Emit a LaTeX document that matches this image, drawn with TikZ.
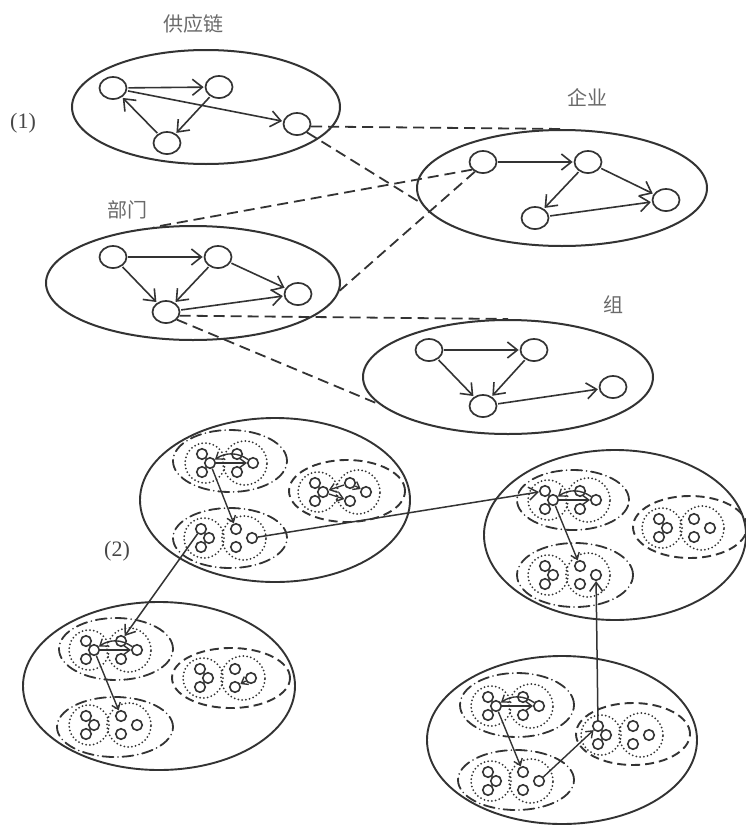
\documentclass[tikz,border=0pt]{standalone}
\usepackage{fontspec}
\setmainfont{Liberation Serif}
\newfontfamily\cjk{Noto Sans CJK SC}
\usetikzlibrary{arrows.meta,shapes.geometric}

\definecolor{ink}{HTML}{333333}
\definecolor{labelgray}{HTML}{6A6A6A}

\tikzset{
  % level (1): containers, members and links
  outer/.style={ellipse, draw=ink, line width=2pt, inner sep=0pt},
  unit/.style={ellipse, draw=ink, line width=1.7pt, minimum width=27pt, minimum height=22pt, inner sep=0pt},
  link/.style={draw=ink, line width=1.6pt, shorten >=1pt, shorten <=1pt,
    -{Straight Barb[length=10pt,width=16pt]}},
  cone/.style={draw=ink, line width=1.8pt, dash pattern=on 11pt off 6pt},
  % level (2): nested groups
  big/.style={draw=ink, line width=1.9pt},
  dot/.style={circle, draw=ink, line width=1.6pt, minimum size=10.5pt, inner sep=0pt},
  link2/.style={draw=ink, line width=1.4pt, -{Straight Barb[length=6pt,width=9pt]}},
  jump/.style={draw=ink, line width=1.5pt, -{Straight Barb[length=9pt,width=13pt]}},
  dotring/.style={draw=ink, line width=2pt, line cap=round, dash pattern=on 0pt off 3.8pt},
  dashdotring/.style={draw=ink, line width=1.8pt, line cap=round, dash pattern=on 11pt off 4.5pt on 0pt off 4.5pt},
  dashring/.style={draw=ink, line width=1.9pt, dash pattern=on 9pt off 5pt},
  lbl/.style={text=labelgray, font=\cjk\fontsize{20}{20}\selectfont, inner sep=0pt},
  num/.style={text=ink!90, font=\fontsize{22}{22}\selectfont, inner sep=0pt},
  % two dotted rings, each holding three members
  twinring/.pic={
    \draw[dotring] (-20,0) circle[radius=20pt];
    \draw[dotring] (20,0) circle[radius=22pt];
    \node[dot] (-l1) at (-23,-9) {};
    \node[dot] (-l2) at (-15,0) {};
    \node[dot] (-l3) at (-23,9) {};
    \node[dot] (-r1) at (12,-9) {};
    \node[dot] (-r2) at (28,0) {};
    \node[dot] (-r3) at (12,9) {};
  }
}

\begin{document}
\begin{tikzpicture}[x=1pt,y=-1pt]
\useasboundingbox[fill=white] (0,0) rectangle (746,827);

% ---------- (1) supply chain, enterprise, department, group ----------
\node[outer, minimum width=268pt, minimum height=114pt] (chain) at (206,107) {};
\node[outer, minimum width=290pt, minimum height=116pt] (ent) at (562,188) {};
\node[outer, minimum width=294pt, minimum height=114pt] (dep) at (193,283) {};
\node[outer, minimum width=290pt, minimum height=114pt] (grp) at (508,377) {};

\node[lbl] (tChain) at (193,24) {供应链};
\node[lbl] (tEnt) at (587,98) {企业};
\node[lbl] (tDep) at (127,210) {部门};
\node[lbl] (tGrp) at (613,305) {组};
\node[num] (n1) at (23,123) {(1)};

\node[unit] (A) at (113,88) {};
\node[unit] (B) at (219,87) {};
\node[unit] (C) at (167,143) {};
\node[unit] (D) at (297,124) {};
\draw[link] (A) -- (B);
\draw[link] (B) -- (C);
\draw[link] (C) -- (A);
\draw[link] (A) -- (D);

\node[unit] (E1) at (483,162) {};
\node[unit] (E2) at (588,162) {};
\node[unit] (E3) at (666,200) {};
\node[unit] (E4) at (535,218) {};
\draw[link] (E1) -- (E2);
\draw[link] (E2) -- (E4);
\draw[link] (E2) -- (E3);
\draw[link] (E4) -- (E3);

\node[unit] (P1) at (113,257) {};
\node[unit] (P2) at (218,257) {};
\node[unit] (P3) at (298,294) {};
\node[unit] (P4) at (166,312) {};
\draw[link] (P1) -- (P2);
\draw[link] (P1) -- (P4);
\draw[link] (P2) -- (P4);
\draw[link] (P2) -- (P3);
\draw[link] (P4) -- (P3);

\node[unit] (G1) at (429,350) {};
\node[unit] (G2) at (534,350) {};
\node[unit] (G3) at (483,406) {};
\node[unit] (G4) at (613,387) {};
\draw[link] (G1) -- (G2);
\draw[link] (G1) -- (G3);
\draw[link] (G2) -- (G3);
\draw[link] (G3) -- (G4);

% expansion cones between levels
\draw[cone] (D.-10) -- (ent.north);
\draw[cone] (D.-40) -- (ent.186);
\draw[cone] (E1.215) -- (dep.125);
\draw[cone] (E1.230) -- (dep.-3);
\draw[cone] (P4.-15) -- (grp.north);
\draw[cone] (P4.-35) -- (grp.192);

% ---------- (2) nested groups ----------
\node[num] (n2) at (117,551) {(2)};

% upper middle cluster
\draw[big] (275,500) ellipse[x radius=135pt, y radius=82pt];
\draw[dashdotring] (230,461) ellipse[x radius=57pt, y radius=31pt];
\draw[dashdotring] (230,538) ellipse[x radius=57pt, y radius=30pt];
\draw[dashring] (347,491) ellipse[x radius=58pt, y radius=31pt];
\pic (aT) at (225,463) {twinring};
\pic (aB) at (224,538) {twinring};
\pic (aR) at (338,492) {twinring};

% right cluster
\draw[big] (615,535) ellipse[x radius=131pt, y radius=85pt];
\draw[dashdotring] (573,500) ellipse[x radius=56pt, y radius=30pt];
\draw[dashdotring] (575,575) ellipse[x radius=58pt, y radius=32pt];
\draw[dashring] (690,527) ellipse[x radius=57pt, y radius=31pt];
\pic (bT) at (568,500) {twinring};
\pic (bB) at (568,575) {twinring};
\pic (bR) at (682,528) {twinring};

% lower left cluster
\draw[big] (159,686) ellipse[x radius=136pt, y radius=84pt];
\draw[dashdotring] (116,649) ellipse[x radius=57pt, y radius=31pt];
\draw[dashdotring] (115,727) ellipse[x radius=58pt, y radius=30pt];
\draw[dashring] (231,678) ellipse[x radius=59pt, y radius=30pt];
\pic (cT) at (109,650) {twinring};
\pic (cB) at (109,725) {twinring};
\pic (cR) at (223,678) {twinring};

% lower right cluster
\draw[big] (562,740) ellipse[x radius=135pt, y radius=84pt];
\draw[dashdotring] (517,705) ellipse[x radius=57pt, y radius=32pt];
\draw[dashdotring] (516,780) ellipse[x radius=58pt, y radius=30pt];
\draw[dashring] (633,734) ellipse[x radius=57pt, y radius=31pt];
\pic (dT) at (511,706) {twinring};
\pic (dB) at (511,781) {twinring};
\pic (dR) at (621,735) {twinring};

% links inside clusters
\foreach \k in {a,b,c,d}{
  \draw[link2] (\k T-r2) to[bend right=35] (\k T-l2);
  \draw[link2] (\k T-l2) -- (\k T-r2);
  \draw[link2] (\k T-l2) -- (\k B-r1);
}
\draw[link2] (aR-r1) -- (aR-l2);
\draw[link2] (aR-l2) -- (aR-r3);
\draw[link2] (aR-r1) -- (aR-r2);
\draw[link2] (cR-r2) -- (cR-r3);
\draw[link2] (dB-r2) -- (dR-l1);

% links between clusters
\draw[jump] (aB-r2) -- (bT-l1);
\draw[jump] (aB-l1) -- (cT-r1);
\draw[jump] (dR-l1) -- (bB-r2);
\end{tikzpicture}
\end{document}
